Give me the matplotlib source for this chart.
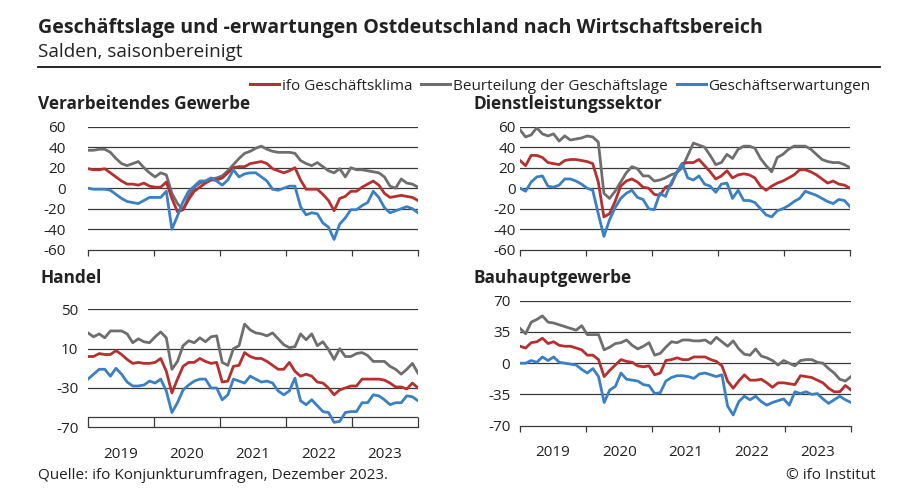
import numpy as np
import matplotlib.pyplot as plt
from matplotlib.lines import Line2D

plt.rcParams['font.family'] = ['Open Sans', 'DejaVu Sans']

years = ['2019', '2020', '2021', '2022', '2023']
n_months = 60  # Jan 2019 - Dec 2023

# Verarbeitendes Gewerbe
verarb_klima = [19, 18, 18, 19, 15, 11, 7, 4, 4, 3, 5, 2, 1, 1, 6, -10, -23, -21, -11, -3,
                1, 5, 8, 8, 10, 15, 20, 21, 21, 24, 25, 26, 24, 19, 17, 15, 17, 20, 8, -1,
                -1, -1, -6, -12, -22, -10, -8, -3, -3, 1, 4, 7, 3, -5, -9, -8, -7, -8, -9, -12]
verarb_lage = [37, 37, 38, 38, 35, 29, 24, 22, 24, 26, 20, 15, 11, 15, 13, -5, -15, -21, -8, 1,
               5, 7, 9, 10, 12, 17, 23, 29, 34, 36, 39, 41, 38, 36, 35, 35, 35, 34, 27, 24,
               22, 25, 21, 17, 15, 19, 11, 20, 18, 18, 17, 16, 15, 11, 2, 0, 9, 5, 4, 1]
verarb_erw = [0, -1, -1, -1, -2, -6, -10, -13, -14, -15, -12, -9, -9, -9, -3, -40, -27, -13, -3, 2,
              7, 7, 10, 7, 3, 8, 18, 11, 14, 15, 15, 11, 7, -1, -2, 0, 2, 2, -18, -26,
              -24, -25, -34, -38, -50, -35, -29, -21, -21, -17, -14, -3, -9, -19, -24, -22, -20, -18, -20, -24]

# Dienstleistungssektor
dienst_klima = [27, 22, 32, 32, 30, 25, 24, 23, 27, 28, 28, 27, 26, 24, 6, -28, -25, -13, 2, 7,
                9, 6, 1, 0, -6, -7, 1, 3, 15, 24, 25, 25, 28, 22, 16, 9, 12, 17, 10, 13,
                14, 13, 10, 2, -2, 2, 5, 7, 10, 13, 18, 18, 16, 13, 9, 5, 7, 4, 3, 0]
dienst_lage = [57, 50, 52, 59, 53, 51, 53, 46, 51, 47, 48, 49, 51, 50, 45, -5, -10, -3, 6, 15,
               21, 19, 12, 12, 7, 8, 10, 13, 15, 20, 32, 44, 42, 40, 32, 23, 25, 33, 29, 38,
               41, 41, 39, 29, 22, 16, 30, 33, 38, 41, 41, 41, 38, 33, 28, 26, 25, 25, 23, 20]
dienst_erw = [0, -3, 6, 11, 12, 2, 1, 3, 9, 9, 7, 4, 0, -2, -25, -47, -31, -19, -10, -5,
              -2, -9, -11, -20, -21, -5, -8, 5, 15, 24, 10, 8, 12, 4, 2, -4, 4, 5, -10, -2,
              -12, -12, -14, -20, -26, -28, -22, -20, -17, -13, -10, -3, -5, -7, -10, -13, -15, -11, -12, -18]

# Handel
handel_klima = [2, 2, 5, 4, 4, 8, 4, -1, -5, -4, -5, -5, -4, 0, -13, -35, -21, -8, -4, -4,
                0, -3, -5, -4, -24, -23, -8, -7, 6, 2, 0, 0, -3, -7, -11, -11, -4, -13, -18, -16,
                -18, -24, -25, -30, -37, -32, -30, -28, -28, -21, -21, -21, -21, -22, -25, -29, -29, -31, -25, -30]
handel_lage = [26, 22, 25, 21, 28, 28, 28, 25, 16, 20, 17, 16, 22, 27, 21, -11, -3, 13, 18, 16,
               21, 17, 22, 23, -4, -7, 10, 13, 35, 29, 26, 25, 23, 26, 20, 14, 11, 12, 25, 19,
               25, 13, 17, 9, -1, 10, 2, 2, 5, 6, 3, -3, -3, -3, -8, -11, -16, -11, -5, -15]
handel_erw = [-21, -16, -11, -11, -18, -10, -16, -24, -28, -28, -27, -23, -25, -21, -33, -55, -45, -32, -27, -23,
              -21, -21, -30, -30, -42, -37, -21, -23, -25, -18, -21, -24, -23, -25, -33, -37, -33, -20, -43, -47,
              -42, -48, -54, -55, -65, -64, -55, -54, -54, -45, -45, -37, -38, -42, -47, -45, -45, -38, -39, -43]

# Bauhauptgewerbe
bau_klima = [19, 17, 23, 24, 28, 22, 24, 20, 19, 19, 17, 15, 9, 9, 4, -15, -8, -2, 4, 2,
             1, -3, -4, -3, -13, -11, 3, 4, 6, 4, 4, 7, 7, 7, 4, 2, -3, -20, -28, -20,
             -13, -19, -19, -18, -22, -27, -22, -22, -23, -24, -14, -15, -16, -19, -22, -28, -32, -32, -25, -30]
bau_lage = [39, 33, 46, 49, 53, 46, 45, 43, 41, 39, 37, 42, 32, 32, 32, 15, 18, 22, 23, 26,
            20, 16, 19, 23, 9, 11, 18, 24, 23, 26, 26, 25, 25, 26, 22, 29, 24, 19, 25, 16,
            10, 9, 16, 8, 6, 3, -2, 3, 0, -3, 3, 4, 4, 1, 0, -6, -11, -18, -20, -15]
bau_erw = [0, 0, 3, 1, 7, 3, 7, 1, 0, -1, -2, -7, -11, -6, -15, -44, -30, -26, -11, -18,
           -19, -20, -24, -25, -34, -33, -20, -16, -14, -14, -15, -17, -12, -11, -13, -15, -13, -48, -58, -43,
           -37, -41, -37, -43, -47, -44, -42, -40, -47, -32, -34, -32, -35, -34, -40, -45, -41, -37, -41, -44]

RED = '#b5302f'
GRAY = '#6e6e6e'
BLUE = '#3a80c4'
TXT = '#222222'
LINE = '#3a3a3a'

W, H = 900, 498
fig = plt.figure(figsize=(W / 100, H / 100), dpi=100)


def px_axes(left, top, right, bottom):
    return fig.add_axes([left / W, 1 - bottom / H, (right - left) / W, (bottom - top) / H])


panels = [
    # title, axes box in px, y ticks, gridlines, title pos, y-label pad, extra line, show years
    ('Verarbeitendes Gewerbe', (88, 126.7, 418, 249.7), [-60, -40, -20, 0, 20, 40, 60],
     [60, 40, 20, 0, -20, -40], (38, 104), 16, None, False,
     (verarb_lage, verarb_klima, verarb_erw)),
    ('Dienstleistungssektor', (520, 126.7, 850, 249.7), [-60, -40, -20, 0, 20, 40, 60],
     [60, 40, 20, 0, -20, -40], (474, 104), 3, None, False,
     (dienst_lage, dienst_klima, dienst_erw)),
    ('Handel', (88, 309.3, 418, 427.3), [-70, -30, 10, 50],
     [50, 10, -30], (40, 278), 7, -60, True,
     (handel_lage, handel_klima, handel_erw)),
    ('Bauhauptgewerbe', (520, 300.7, 851, 425.7), [-70, -35, 0, 35, 70],
     [70, 35, 0, -35], (474, 278), 7, None, True,
     (bau_lage, bau_klima, bau_erw)),
]

x = np.arange(n_months)
year_edges = np.linspace(0, n_months - 1, len(years) + 1)
year_mids = (year_edges[:-1] + year_edges[1:]) / 2

for title, box, yticks, grid, tpos, ypad, extra, show_years, series in panels:
    ax = px_axes(*box)
    lage, klima, erw = series
    ax.plot(x, lage, color=GRAY, lw=2.0, solid_joinstyle='round', zorder=3)
    ax.plot(x, klima, color=RED, lw=2.0, solid_joinstyle='round', zorder=4)
    ax.plot(x, erw, color=BLUE, lw=2.0, solid_joinstyle='round', zorder=5)
    for g in grid:
        ax.axhline(g, color=LINE, lw=0.9, zorder=1)
    ax.set_xlim(0, n_months - 1)
    ax.set_ylim(yticks[0], yticks[-1])
    ax.set_yticks(yticks)
    ax.set_yticklabels([str(v) for v in yticks])
    ax.tick_params(axis='y', length=0, pad=ypad, labelsize=11, labelcolor=TXT)
    for s in ['left', 'right', 'top']:
        ax.spines[s].set_visible(False)
    ax.spines['bottom'].set_color(LINE)
    ax.spines['bottom'].set_linewidth(0.9)
    ax.set_xticks(year_edges)
    ax.set_xticklabels([])
    if extra is not None:
        ax.axhline(extra, color=LINE, lw=0.9, zorder=1)
        ax.tick_params(axis='x', which='major', direction='in', length=7, width=0.9, color=LINE)
    else:
        ax.tick_params(axis='x', which='major', direction='out', length=4.5, width=0.9, color=LINE)
    if show_years:
        ax.set_xticks(year_mids, minor=True)
        ax.set_xticklabels(years, minor=True)
        ax.tick_params(axis='x', which='minor', length=0, pad=14, labelsize=11, labelcolor=TXT)
    fig.text(tpos[0] / W, 1 - tpos[1] / H, title, fontsize=12.4, fontweight='bold',
             color=TXT, va='center', ha='left')

# header
fig.text(38 / W, 1 - 28 / H, 'Geschäftslage und -erwartungen Ostdeutschland nach Wirtschaftsbereich',
         fontsize=14.1, fontweight='bold', color=TXT, va='center', ha='left')
fig.text(38 / W, 1 - 52 / H, 'Salden, saisonbereinigt', fontsize=13.6, color=TXT, va='center', ha='left')
fig.add_artist(Line2D([38 / W, 880 / W], [1 - 67 / H, 1 - 67 / H], color='#111111', lw=1.3))

# legend
handles = [Line2D([], [], color=RED, lw=2.2), Line2D([], [], color=GRAY, lw=2.2),
           Line2D([], [], color=BLUE, lw=2.2)]
labels = ['ifo Geschäftsklima', 'Beurteilung der Geschäftslage', 'Geschäftserwartungen']
fig.legend(handles, labels, loc='center right', bbox_to_anchor=(870 / W, 1 - 86 / H), ncol=3,
           frameon=False, fontsize=11, handlelength=1.9, handletextpad=0.15,
           columnspacing=0.6, borderaxespad=0, borderpad=0, labelcolor=TXT)

# footer
fig.text(38 / W, 1 - 475 / H, 'Quelle: ifo Konjunkturumfragen, Dezember 2023.', fontsize=11,
         color=TXT, va='center', ha='left')
fig.text(876 / W, 1 - 475 / H, '© ifo Institut', fontsize=11, color=TXT, va='center', ha='right')

fig.savefig('out.png', dpi=100)
